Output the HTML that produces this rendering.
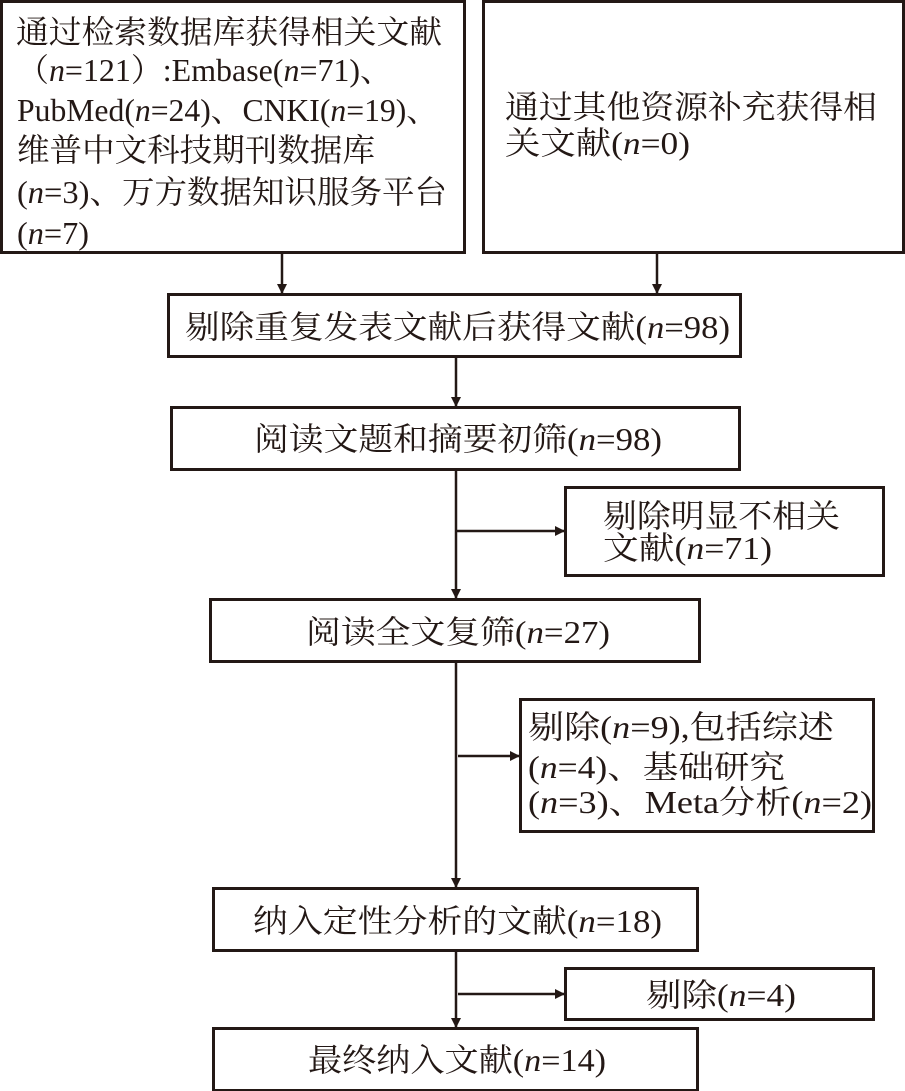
<!DOCTYPE html>
<html><head><meta charset="utf-8"><style>
html,body{margin:0;padding:0;background:#fff;}
svg{display:block}
text{font-family:"Liberation Serif","Noto Serif CJK SC",serif;font-size:32px;fill:#231815;}
</style></head><body>
<svg width="905" height="1091" viewBox="0 0 905 1091" xmlns="http://www.w3.org/2000/svg">
<defs><marker id="a" markerWidth="10" markerHeight="10" refX="9" refY="5" orient="auto" markerUnits="userSpaceOnUse"><path d="M0,0 L10,5 L0,10 z" fill="#231815"/></marker></defs>
<g fill="none" stroke="#231815" stroke-width="3">
<rect x="1.5" y="1.5" width="463" height="251"/>
<rect x="483.5" y="1.5" width="420" height="251"/>
<rect x="168.5" y="294.5" width="572" height="62"/>
<rect x="171.5" y="407.5" width="568" height="62"/>
<rect x="565.5" y="487.5" width="318" height="88"/>
<rect x="210.5" y="599.5" width="489" height="62"/>
<rect x="520.5" y="699.5" width="353" height="132"/>
<rect x="213.5" y="888.5" width="484" height="62"/>
<rect x="565.5" y="968.5" width="308" height="51"/>
<rect x="213.5" y="1028.5" width="484" height="62"/>
</g>
<g stroke="#231815" stroke-width="2.5" marker-end="url(#a)">
<line x1="282" y1="254" x2="282" y2="293"/>
<line x1="657" y1="254" x2="657" y2="293"/>
<line x1="456" y1="358" x2="456" y2="406"/>
<line x1="456" y1="471" x2="456" y2="598"/>
<line x1="456" y1="531" x2="564" y2="531"/>
<line x1="456" y1="663" x2="456" y2="887"/>
<line x1="458" y1="756" x2="519" y2="756"/>
<line x1="456" y1="952" x2="456" y2="1027"/>
<line x1="458" y1="994" x2="564" y2="994"/>
</g>
<g>
<text x="16" y="43" textLength="426" lengthAdjust="spacingAndGlyphs">通过检索数据库获得相关文献</text>
<text x="17" y="81" textLength="375" lengthAdjust="spacingAndGlyphs">（<tspan font-style="italic">n</tspan>=121）:Embase(<tspan font-style="italic">n</tspan>=71)、</text>
<text x="17" y="121" textLength="421" lengthAdjust="spacingAndGlyphs">PubMed(<tspan font-style="italic">n</tspan>=24)、CNKI(<tspan font-style="italic">n</tspan>=19)、</text>
<text x="17" y="161" textLength="358" lengthAdjust="spacingAndGlyphs">维普中文科技期刊数据库</text>
<text x="17" y="203" textLength="430" lengthAdjust="spacingAndGlyphs">(<tspan font-style="italic">n</tspan>=3)、万方数据知识服务平台</text>
<text x="17" y="244" textLength="72" lengthAdjust="spacingAndGlyphs">(<tspan font-style="italic">n</tspan>=7)</text>
<text x="505" y="118" textLength="372" lengthAdjust="spacingAndGlyphs">通过其他资源补充获得相</text>
<text x="505" y="154" textLength="185" lengthAdjust="spacingAndGlyphs">关文献(<tspan font-style="italic">n</tspan>=0)</text>
<text x="185" y="338" textLength="545" lengthAdjust="spacingAndGlyphs">剔除重复发表文献后获得文献(<tspan font-style="italic">n</tspan>=98)</text>
<text x="254" y="450" textLength="408" lengthAdjust="spacingAndGlyphs">阅读文题和摘要初筛(<tspan font-style="italic">n</tspan>=98)</text>
<text x="603" y="527" textLength="237" lengthAdjust="spacingAndGlyphs">剔除明显不相关</text>
<text x="603" y="559" textLength="169" lengthAdjust="spacingAndGlyphs">文献(<tspan font-style="italic">n</tspan>=71)</text>
<text x="306" y="643" textLength="304" lengthAdjust="spacingAndGlyphs">阅读全文复筛(<tspan font-style="italic">n</tspan>=27)</text>
<text x="528" y="738" textLength="306" lengthAdjust="spacingAndGlyphs">剔除(<tspan font-style="italic">n</tspan>=9),包括综述</text>
<text x="528" y="778" textLength="257" lengthAdjust="spacingAndGlyphs">(<tspan font-style="italic">n</tspan>=4)、基础研究</text>
<text x="528" y="813" textLength="344" lengthAdjust="spacingAndGlyphs">(<tspan font-style="italic">n</tspan>=3)、Meta分析(<tspan font-style="italic">n</tspan>=2)</text>
<text x="253" y="932" textLength="409" lengthAdjust="spacingAndGlyphs">纳入定性分析的文献(<tspan font-style="italic">n</tspan>=18)</text>
<text x="646" y="1006" textLength="150" lengthAdjust="spacingAndGlyphs">剔除(<tspan font-style="italic">n</tspan>=4)</text>
<text x="308" y="1071" textLength="298" lengthAdjust="spacingAndGlyphs">最终纳入文献(<tspan font-style="italic">n</tspan>=14)</text>
</g>
</svg>
</body></html>
